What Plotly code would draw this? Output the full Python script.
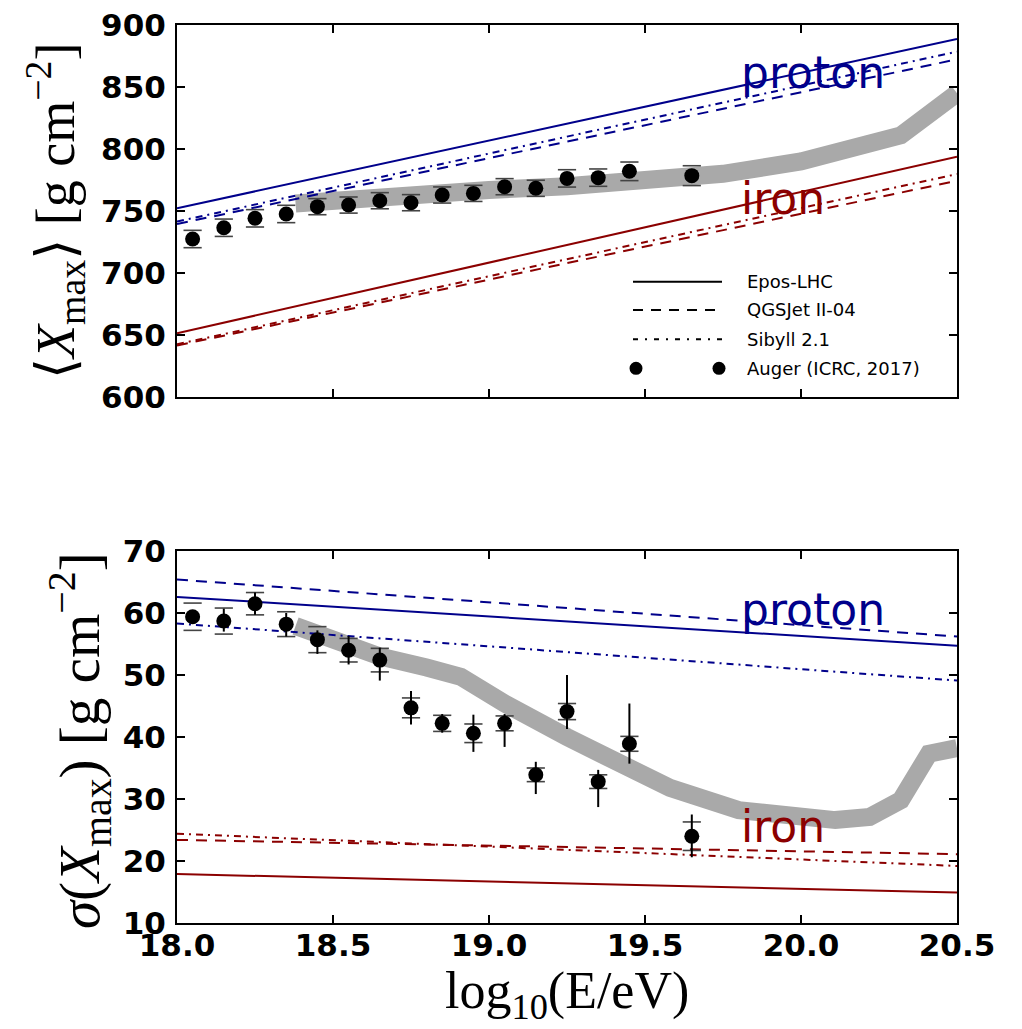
import plotly.graph_objects as go

# ---------------- data ----------------
energy = [18.05, 18.15, 18.25, 18.35, 18.45, 18.55, 18.65, 18.75,
          18.85, 18.95, 19.05, 19.15, 19.25, 19.35, 19.45, 19.65]

xmax_mean = [727.4, 736.5, 744.1, 747.6, 753.5, 754.8, 758.3, 756.7,
             762.9, 764.2, 769.6, 768.3, 776.3, 776.9, 782.0, 778.5]
xmax_stat = [2.0, 2.0, 2.0, 2.0, 2.0, 2.0, 2.0, 2.0,
             2.0, 2.0, 2.5, 2.5, 3.0, 3.0, 3.5, 4.0]
xmax_sys = [7.0, 7.0, 7.0, 7.0, 6.5, 6.5, 6.5, 6.5,
            6.5, 6.5, 6.5, 6.5, 7.0, 7.0, 7.5, 8.0]

sigma_mean = [59.4, 58.7, 61.5, 58.2, 55.7, 54.0, 52.4, 44.7,
              42.2, 40.6, 42.2, 33.9, 44.1, 32.8, 38.9, 24.0]
sigma_stat_up = [1.0, 2.0, 1.8, 1.8, 1.5, 2.3, 2.0, 2.7,
                 1.5, 3.0, 1.5, 2.1, 5.9, 1.9, 6.5, 3.5]
sigma_stat_lo = [1.0, 1.7, 1.8, 2.0, 2.3, 2.3, 3.3, 2.7,
                 1.5, 3.0, 3.8, 3.1, 2.8, 4.1, 3.2, 3.4]
sigma_sys = [2.2, 2.1, 1.8, 2.0, 2.1, 1.9, 1.9, 1.6,
             1.3, 1.5, 1.2, 1.1, 1.3, 1.1, 1.2, 2.3]

model_x = [18.0, 20.5]
xmax_p_epos = [752.2, 888.7]
xmax_p_qgs = [739.5, 872.3]
xmax_p_sib = [741.5, 878.5]
xmax_fe_epos = [651.4, 793.8]
xmax_fe_qgs = [641.5, 774.4]
xmax_fe_sib = [642.5, 779.8]

sigma_p_epos = [62.6, 54.7]
sigma_p_qgs = [65.4, 56.2]
sigma_p_sib = [58.3, 49.1]
sigma_fe_epos = [17.9, 14.9]
sigma_fe_qgs = [23.4, 21.1]
sigma_fe_sib = [24.4, 19.2]

band_xmax_x = [18.38, 18.5, 18.75, 19.0, 19.25, 19.5, 19.75, 20.0, 20.21, 20.32, 20.5]
band_xmax_y = [756, 758.5, 763, 767, 770, 774, 780, 790, 802, 811, 845]

band_sigma_x = [18.38, 18.5, 18.65, 18.8, 18.91, 19.05, 19.15, 19.25, 19.37, 19.5,
                19.58, 19.8, 19.96, 20.11, 20.22, 20.32, 20.41, 20.5]
band_sigma_y = [57.9, 55.8, 53.0, 51.2, 49.7, 45.4, 42.4, 40.0, 37.0, 33.7,
                31.8, 28.2, 27.0, 26.6, 27.1, 29.8, 37.3, 38.2]

x_ticks = [18.0, 18.5, 19.0, 19.5, 20.0, 20.5]
legend_labels = ["Epos-LHC", "QGSJet II-04", "Sibyll 2.1", "Auger (ICRC, 2017)"]

# ---------------- styles ----------------
BLUE = "#00008B"
RED = "#8B0000"
GRAY = "#A9A9A9"
DASH = "11px,8px"
DASHDOT = "7px,5px,2px,5px"
W, H = 1022, 1029

fig = go.Figure()


def add_panel(xa, ya, band_x, band_y, lines, mean, stat_up, stat_lo, sys):
    fig.add_trace(go.Scatter(x=band_x, y=band_y, mode="lines",
                             line=dict(color=GRAY, width=18),
                             xaxis=xa, yaxis=ya, showlegend=False, hoverinfo="skip"))
    for yv, color, dash in lines:
        fig.add_trace(go.Scatter(x=model_x, y=yv, mode="lines",
                                 line=dict(color=color, width=2, dash=dash),
                                 xaxis=xa, yaxis=ya, showlegend=False))
    # systematic brackets
    sys_hi = [m + s for m, s in zip(mean, sys)]
    sys_lo = [m - s for m, s in zip(mean, sys)]
    fig.add_trace(go.Scatter(x=energy + energy, y=sys_hi + sys_lo, mode="markers",
                             marker=dict(symbol="line-ew", size=13,
                                         line=dict(color="#444444", width=1.6)),
                             xaxis=xa, yaxis=ya, showlegend=False, hoverinfo="skip"))
    fig.add_trace(go.Scatter(x=energy, y=mean, mode="markers",
                             marker=dict(color="black", size=15),
                             error_y=dict(type="data", symmetric=False,
                                          array=stat_up, arrayminus=stat_lo,
                                          color="black", thickness=2, width=0),
                             xaxis=xa, yaxis=ya, showlegend=False))


add_panel("x", "y", band_xmax_x, band_xmax_y,
          [(xmax_p_epos, BLUE, "solid"), (xmax_p_qgs, BLUE, DASH), (xmax_p_sib, BLUE, DASHDOT),
           (xmax_fe_epos, RED, "solid"), (xmax_fe_qgs, RED, DASH), (xmax_fe_sib, RED, DASHDOT)],
          xmax_mean, xmax_stat, xmax_stat, xmax_sys)

add_panel("x2", "y2", band_sigma_x, band_sigma_y,
          [(sigma_p_epos, BLUE, "solid"), (sigma_p_qgs, BLUE, DASH), (sigma_p_sib, BLUE, DASHDOT),
           (sigma_fe_epos, RED, "solid"), (sigma_fe_qgs, RED, DASH), (sigma_fe_sib, RED, DASHDOT)],
          sigma_mean, sigma_stat_up, sigma_stat_lo, sigma_sys)

tickfont = dict(family="DejaVu Sans", size=31, color="black", weight="bold")
axis_common = dict(showline=True, linecolor="black", linewidth=2, mirror="ticks",
                   ticks="inside", ticklen=8, tickwidth=1.5, tickcolor="black",
                   showgrid=False, zeroline=False, tickfont=tickfont, automargin=False)

x0p, x1p = 177 / W, 957 / W
fig.update_layout(
    width=W, height=H, margin=dict(l=0, r=0, t=0, b=0, autoexpand=False),
    plot_bgcolor="white", paper_bgcolor="white", showlegend=False,
    xaxis=dict(domain=[x0p, x1p], range=[18.0, 20.5], tickvals=x_ticks,
               showticklabels=False, anchor="y", **axis_common),
    yaxis=dict(domain=[1 - 397 / H, 1 - 25 / H], range=[600, 900], dtick=50,
               anchor="x", ticklabelstandoff=3, **axis_common),
    xaxis2=dict(domain=[x0p, x1p], range=[18.0, 20.5], tickvals=x_ticks,
                tickformat=".1f", anchor="y2", ticklabelstandoff=-6, **axis_common),
    yaxis2=dict(domain=[1 - 923 / H, 1 - 551 / H], range=[10, 70], dtick=10,
                anchor="x2", ticklabelstandoff=3, **axis_common),
)

ann = []
# panel labels
label_font_p = dict(family="DejaVu Sans", size=44, color=BLUE)
label_font_fe = dict(family="DejaVu Sans", size=44, color=RED)
ann.append(dict(x=19.8, y=862, xref="x", yref="y", text="proton", showarrow=False,
                xanchor="left", yanchor="middle", font=label_font_p))
ann.append(dict(x=19.8, y=760, xref="x", yref="y", text="iron", showarrow=False,
                xanchor="left", yanchor="middle", font=label_font_fe))
ann.append(dict(x=19.8, y=60.5, xref="x2", yref="y2", text="proton", showarrow=False,
                xanchor="left", yanchor="middle", font=label_font_p))
ann.append(dict(x=19.8, y=25.5, xref="x2", yref="y2", text="iron", showarrow=False,
                xanchor="left", yanchor="middle", font=label_font_fe))

# axis titles
title_font = dict(family="Liberation Serif, DejaVu Serif", size=54, color="black")
ann.append(dict(x=55 / W, y=1 - 211 / H, xref="paper", yref="paper", textangle=-90,
                text="\u27e8<i>X</i><sub>max</sub>\u27e9 [g cm<sup>\u22122</sup>]",
                showarrow=False, xanchor="center", yanchor="middle", font=title_font))
ann.append(dict(x=79 / W, y=1 - 741 / H, xref="paper", yref="paper", textangle=-90,
                text="<i>\u03c3</i>(<i>X</i><sub>max</sub>) [g cm<sup>\u22122</sup>]",
                showarrow=False, xanchor="center", yanchor="middle",
                font=dict(family="Liberation Serif, DejaVu Serif", size=57, color="black")))
ann.append(dict(x=567 / W, y=0, xref="paper", yref="paper",
                text="log<sub>10</sub>(E/eV)",
                showarrow=False, xanchor="center", yanchor="bottom",
                font=dict(family="Liberation Serif, DejaVu Serif", size=52, color="black")))

# legend (custom, matplotlib style)
leg_font = dict(family="DejaVu Sans", size=18, color="black")
rows_y = [281.7, 310, 339.3, 368.3]
shapes = []
lx0, lx1, tx = 633 / W, 722 / W, 745 / W
for i, lab in enumerate(legend_labels):
    yy = 1 - rows_y[i] / H
    ann.append(dict(x=tx, y=yy, xref="paper", yref="paper", text=lab, showarrow=False,
                    xanchor="left", yanchor="middle", font=leg_font))
    if i < 3:
        d = ["solid", "10px,8px", "5px,7px,2px,7px"][i]
        shapes.append(dict(type="line", xref="paper", yref="paper", x0=lx0, x1=lx1,
                           y0=yy, y1=yy, line=dict(color="black", width=2, dash=d)))
    else:
        for cx in [636 / W, 719 / W]:
            shapes.append(dict(type="circle", xref="paper", yref="paper",
                               xsizemode="pixel", ysizemode="pixel",
                               xanchor=cx, yanchor=yy, x0=-6.5, x1=6.5, y0=-6.5, y1=6.5,
                               fillcolor="black", line=dict(color="black", width=0)))

fig.update_layout(annotations=ann, shapes=shapes)
fig.write_html("out.html")
